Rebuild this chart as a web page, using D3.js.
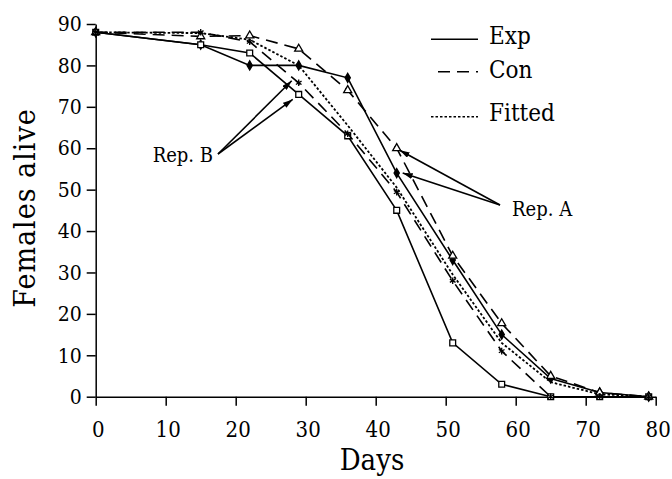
<!DOCTYPE html>
<html>
<head>
<meta charset="utf-8">
<script src="https://cdn.jsdelivr.net/npm/d3@7"></script>
<style>
  body { margin: 0; background: #fff; }
  svg { display: block; }
  .axis text { font-family: "DejaVu Serif Condensed", "DejaVu Serif", serif; font-stretch: condensed; fill: #000; }
  .axis path, .axis line { stroke: #000; stroke-width: 1.5; }
  .lbl { font-family: "DejaVu Serif Condensed", "DejaVu Serif", serif; font-stretch: condensed; fill: #000; }
</style>
</head>
<body>
<svg id="chart" width="672" height="479"></svg>
<script>
// days of observation
var days = [0, 15, 22, 29, 36, 43, 51, 58, 65, 72, 79];

// females alive per series
var expRepA = [88, 85, 80, 80, 77, 54, 33, 15, 4.4, 1, 0];
var expRepB = [88, 85, 83, 73, 63, 45, 13, 3, 0, 0, 0];
var conRepA = [88, 87, 87.2, 84, 74, 60, 34, 17.7, 5, 1, 0];
var conRepB = [88, 88, 85.7, 75.8, 63.5, 49.4, 28, 11, 0, 0, 0];
var fitted = [88, 87.8, 86.2, 80, 65.5, 50.5, 29.5, 13, 3.5, 0.6, 0];

var xTicks = [0, 10, 20, 30, 40, 50, 60, 70, 80];
var yTicks = [0, 10, 20, 30, 40, 50, 60, 70, 80, 90];

var svg = d3.select("#chart");

var x = d3.scaleLinear().domain([0, 80]).range([95.7, 655.7]),
    y = d3.scaleLinear().domain([0, 90]).range([396.7, 24]);

svg.append("g")
    .attr("class", "axis")
    .attr("transform", "translate(0," + y(0) + ")")
    .call(d3.axisBottom(x).tickValues(xTicks).tickSize(9).tickSizeOuter(0).tickPadding(16))
    .call(function (g) {
        g.selectAll("text").attr("dy", "0.71em").attr("dx", 2).style("font-size", "22px");
    });

svg.append("g")
    .attr("class", "axis")
    .attr("transform", "translate(" + x(0) + ",0)")
    .call(d3.axisLeft(y).tickValues(yTicks).tickSize(9).tickSizeOuter(0).tickPadding(5))
    .call(function (g) { g.selectAll("text").style("font-size", "21px"); });

svg.append("text")
    .attr("class", "lbl")
    .attr("transform", "translate(35,208) rotate(-90)")
    .attr("text-anchor", "middle")
    .style("font-size", "30px")
    .style("letter-spacing", "1px")
    .text("Females alive");

svg.append("text")
    .attr("class", "lbl")
    .attr("x", 372)
    .attr("y", 470)
    .attr("text-anchor", "middle")
    .style("font-size", "29px")
    .text("Days");

var series = [
    { id: "expA", values: expRepA, dash: null, symbol: d3.symbolDiamond, fill: "#000", size: 24 },
    { id: "expB", values: expRepB, dash: null, symbol: d3.symbolSquare, fill: "#fff", size: 34 },
    { id: "conA", values: conRepA, dash: "12,7", symbol: d3.symbolTriangle, fill: "#fff", size: 28 },
    { id: "conB", values: conRepB, dash: "12,7", symbol: d3.symbolAsterisk || d3.symbolCross, fill: "none", size: 30 },
    { id: "fit", values: fitted, dash: "2.5,2", symbol: null }
];

var line = d3.line()
    .x(function (d) { return x(d.day); })
    .y(function (d) { return y(d.v); });

series.forEach(function (s) {
    var pts = days.map(function (d, i) { return { day: d, v: s.values[i] }; });
    svg.append("path")
        .datum(pts)
        .attr("d", line)
        .attr("fill", "none")
        .attr("stroke", "#000")
        .attr("stroke-width", s.dash === "2.5,2" ? 1.8 : 1.6)
        .attr("stroke-dasharray", s.dash);
    if (s.symbol) {
        svg.selectAll(".m-" + s.id)
            .data(pts)
            .enter().append("path")
            .attr("class", "m-" + s.id)
            .attr("transform", function (d) { return "translate(" + x(d.day) + "," + y(d.v) + ")"; })
            .attr("d", d3.symbol().type(s.symbol).size(s.size))
            .attr("fill", s.fill)
            .attr("stroke", "#000")
            .attr("stroke-width", 1.3);
    }
});

// legend
var legend = [
    { name: "Exp", dash: null, y: 39.3, ty: 44 },
    { name: "Con", dash: "12,7", y: 71.7, ty: 78 },
    { name: "Fitted", dash: "2.5,2", y: 116.7, ty: 121 }
];
legend.forEach(function (l) {
    svg.append("line")
        .attr("x1", l.dash === "12,7" ? 438 : 431).attr("x2", 478)
        .attr("y1", l.y).attr("y2", l.y)
        .attr("stroke", "#000").attr("stroke-width", 1.6)
        .attr("stroke-dasharray", l.dash);
    svg.append("text")
        .attr("class", "lbl")
        .attr("x", 489).attr("y", l.ty)
        .style("font-size", "24px")
        .text(l.name);
});

// annotation arrows
svg.append("defs").append("marker")
    .attr("id", "arrow")
    .attr("viewBox", "0 0 10 6")
    .attr("refX", 10).attr("refY", 3)
    .attr("markerWidth", 10).attr("markerHeight", 6)
    .attr("markerUnits", "userSpaceOnUse")
    .attr("orient", "auto")
    .append("path").attr("d", "M0,0L10,3L0,6Z").attr("fill", "#000");

function arrow(x1, y1, x2, y2) {
    svg.append("line")
        .attr("x1", x1).attr("y1", y1).attr("x2", x2).attr("y2", y2)
        .attr("stroke", "#000").attr("stroke-width", 1.6)
        .attr("marker-end", "url(#arrow)");
}

var bx = 218, by = 154;
arrow(bx, by, x(29) - 7, y(conRepB[3]) - 2);
arrow(bx, by, x(29) - 6, y(expRepB[3]) + 5);
svg.append("text").attr("class", "lbl")
    .attr("x", bx - 5).attr("y", 162)
    .attr("text-anchor", "end")
    .style("font-size", "20px")
    .text("Rep. B");

var ax = 500, ay = 205;
arrow(ax, ay, x(43) + 3, y(conRepA[5]) + 2);
arrow(ax, ay, x(43) + 6, y(expRepA[5]));
svg.append("text").attr("class", "lbl")
    .attr("x", 512).attr("y", 216)
    .style("font-size", "20px")
    .text("Rep. A");
</script>
</body>
</html>
